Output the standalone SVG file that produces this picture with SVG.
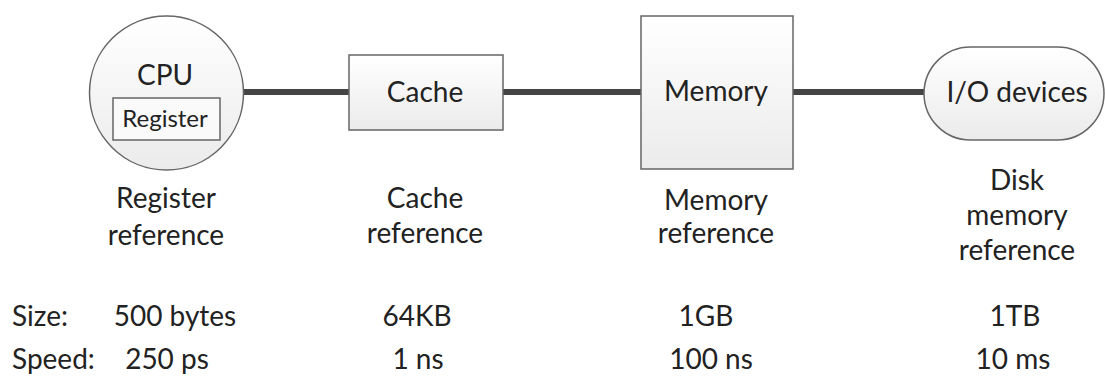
<svg xmlns="http://www.w3.org/2000/svg" width="1105" height="376" viewBox="0 0 1105 376">
<style>
.t{font-family:Lato,"Liberation Sans",sans-serif;font-size:28px;fill:#222;text-anchor:middle}
.tl{font-family:Lato,"Liberation Sans",sans-serif;font-size:28px;fill:#222}
.n{stroke:#666;stroke-width:1.5}
.c{stroke:#444;stroke-width:6;fill:none}
</style>
<defs>
<linearGradient id="g" x1="0" y1="0" x2="0" y2="1">
<stop offset="0" stop-color="#ffffff"/>
<stop offset="1" stop-color="#ebebeb"/>
</linearGradient>
</defs>
<g id="connectors">
<line class="c" x1="243" y1="92" x2="349" y2="92"/>
<line class="c" x1="503" y1="92" x2="641" y2="92"/>
<line class="c" x1="793" y1="92" x2="924" y2="92"/>
</g>
<g id="cpu">
<circle class="n" cx="166.5" cy="93" r="77" fill="url(#g)"/>
<text class="t" x="165" y="85">CPU</text>
<rect class="n" x="113" y="98" width="107" height="42" fill="#fafafa"/>
<text class="t" x="165" y="127" style="font-size:24px">Register</text>
</g>
<g id="cache">
<rect class="n" x="349" y="55" width="154" height="75" fill="url(#g)"/>
<text class="t" x="425" y="102">Cache</text>
</g>
<g id="memory">
<rect class="n" x="641" y="16" width="152" height="153" fill="url(#g)"/>
<text class="t" x="716" y="101">Memory</text>
</g>
<g id="io">
<rect class="n" x="924" y="47" width="180" height="93" rx="46.5" fill="url(#g)"/>
<text class="t" x="1017" y="102">I/O devices</text>
</g>
<g id="labels">
<text class="t" x="166" y="208">Register</text>
<text class="t" x="166" y="245">reference</text>
<text class="t" x="425" y="208">Cache</text>
<text class="t" x="425" y="243">reference</text>
<text class="t" x="716" y="210">Memory</text>
<text class="t" x="716" y="243">reference</text>
<text class="t" x="1017" y="190">Disk</text>
<text class="t" x="1017" y="225">memory</text>
<text class="t" x="1017" y="260">reference</text>
</g>
<g id="table">
<text class="tl" x="12" y="326">Size:</text>
<text class="tl" x="12" y="369">Speed:</text>
<text class="t" x="175" y="326">500 bytes</text>
<text class="t" x="167" y="369">250 ps</text>
<text class="t" x="417" y="326">64KB</text>
<text class="t" x="418" y="369">1 ns</text>
<text class="t" x="706" y="326">1GB</text>
<text class="t" x="711" y="369">100 ns</text>
<text class="t" x="1015" y="326">1TB</text>
<text class="t" x="1013" y="369">10 ms</text>
</g>
</svg>
